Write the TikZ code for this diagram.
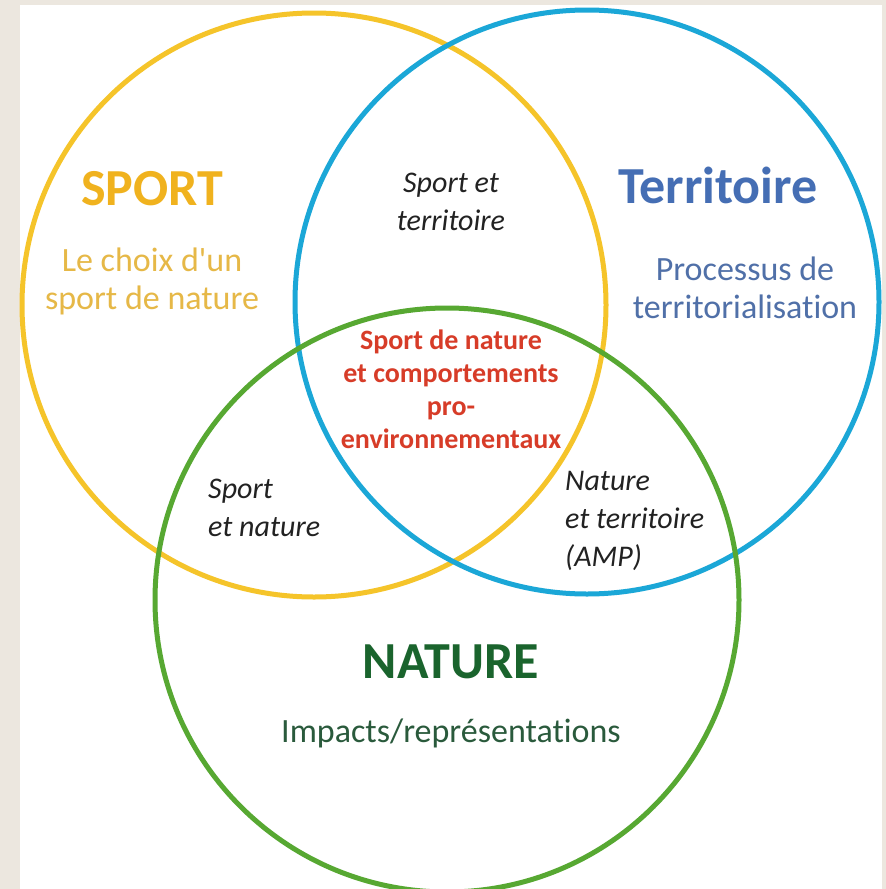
\documentclass[tikz,border=0pt]{standalone}
\usepackage{fontspec}
\setmainfont{Carlito}[Ligatures = NoCommon]
\usepackage{xcolor}
\usetikzlibrary{calc}

\definecolor{paper}{HTML}{ECE7DF}
\definecolor{sportring}{HTML}{F5C42A}
\definecolor{sporttitle}{HTML}{F0B21E}
\definecolor{sporttext}{HTML}{E6B847}
\definecolor{terrring}{HTML}{1BA7D7}
\definecolor{terrtitle}{HTML}{456EB4}
\definecolor{terrtext}{HTML}{5070A8}
\definecolor{natring}{HTML}{57A832}
\definecolor{nattitle}{HTML}{1A642D}
\definecolor{nattext}{HTML}{2A5A3C}
\definecolor{coretext}{HTML}{D73C28}
\definecolor{pairtext}{HTML}{222222}

\tikzset{
	ring/.style = {line width = 5pt},
	title/.style = {font = \bfseries\fontsize{52}{56}\selectfont, anchor = base, inner sep = 0pt},
	subtitle/.style = {font = \fontsize{34}{38}\selectfont, align = center, anchor = base, inner sep = 0pt},
	pair/.style = {font = \itshape\fontsize{30}{38}\selectfont, color = pairtext, inner sep = 0pt},
	core/.style = {font = \bfseries\fontsize{28}{33}\selectfont, color = coretext, align = center, anchor = base, inner sep = 0pt}
}

\begin{document}
\begin{tikzpicture}[x = 1pt, y = -1pt]
		\def\r{292};
		
		\coordinate (sport centre) at (314,305);
		\coordinate (territoire centre) at (587,302);
		\coordinate (nature centre) at (447,600);
		
		% page
		\useasboundingbox (0,0) rectangle (886,889);
		\fill [paper] (0,0) rectangle (886,889);
		\fill [white] (20,5) rectangle (882,889);
		
		\draw [ring, sportring] (sport centre) circle [radius = \r];
		\draw [ring, terrring] (territoire centre) circle [radius = \r];
		\draw [ring, natring] (nature centre) circle [radius = \r];
		
		% multi-line nodes sit on the baseline of their last line
		\node [title, sporttitle] (sport title) at (152,205) {SPORT};
		\node [subtitle, sporttext] (sport text) at (152,309) {Le choix d\textquotesingle un\\sport de nature};
		
		\node [title, terrtitle] (territoire title) at (718,203) {Territoire};
		\node [subtitle, terrtext] (territoire text) at (745,318) {Processus de\\territorialisation};
		
		\node [title, nattitle] (nature title) at (451,678) {NATURE};
		\node [subtitle, nattext] (nature text) at (451,742) {Impacts/représentations};
		
		\node [pair, align = center, anchor = base] (sport territoire) at (451,230) {Sport et\\territoire};
		\node [pair, align = left, anchor = base west] (sport nature) at (208,536) {Sport\\et nature};
		\node [pair, align = left, anchor = base west] (nature territoire) at (565,566) {Nature\\et territoire\\(AMP)};
		
		\node [core] (all three) at (451,448) {Sport de nature\\et comportements\\pro-\\environnementaux};
	\end{tikzpicture}
\end{document}
